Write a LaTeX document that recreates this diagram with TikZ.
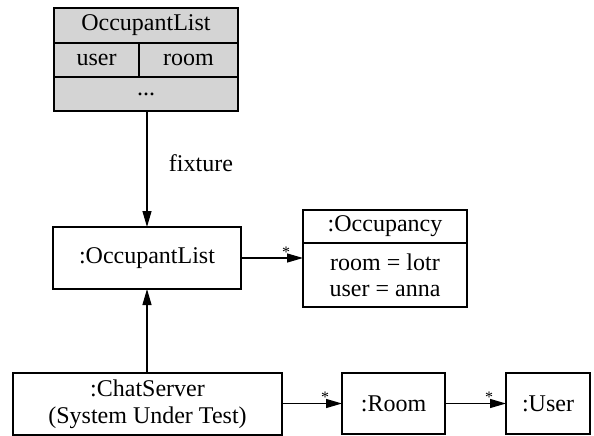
\documentclass[tikz,border=0pt]{standalone}
\usepackage{fontspec}
\setmainfont{Liberation Serif}
\usetikzlibrary{arrows.meta,calc}
\tikzset{
  cell/.style={draw, line width=1.2pt, inner sep=0pt, outer sep=0pt, align=center},
  graycell/.style={cell, fill=black!17},
  arr/.style={line width=1.2pt, -{Triangle[length=16pt,width=9pt]}},
  mult/.style={inner sep=0pt, font=\fontsize{16}{16}\selectfont}
}
\begin{document}
\begin{tikzpicture}[x=1pt, y=-1pt, font=\fontsize{24}{26}\selectfont]
\useasboundingbox (0,0) rectangle (594,436);
% template table
\node[graycell, minimum width=184, minimum height=35] (thead) at (146,25.5) {OccupantList};
\node[graycell, minimum width=85, minimum height=34] (tuser) at (96.5,60) {user};
\node[graycell, minimum width=99, minimum height=34] (troom) at (188.5,60) {room};
\node[graycell, minimum width=184, minimum height=34] (tdots) at (146,94) {...};
% objects
\node[cell, minimum width=188, minimum height=62] (ol) at (147,258) {:OccupantList};
\node[cell, minimum width=164, minimum height=33] (occhead) at (385,226.5) {:Occupancy};
\node[cell, minimum width=164, minimum height=64] (occbody) at (385,275) {room = lotr\\user = anna};
\node[cell, minimum width=269, minimum height=62, font=\fontsize{24}{27}\selectfont] (cs) at (147.5,404) {:ChatServer\\(System Under Test)};
\node[cell, minimum width=103, minimum height=61] (room) at (393.5,403.5) {:Room};
\node[cell, minimum width=84, minimum height=61] (user) at (548,403.5) {:User};
% fixture
\draw[arr] (tdots.south -| ol.north) -- node[right=18pt, pos=0.45] (fixlbl) {fixture} (ol.north);
\draw[arr] (cs.north -| ol.south) -- (ol.south);
% associations
\draw[arr] (ol.east) -- (occbody.west |- ol.east);
\node[mult] (m1) at ($(occbody.west |- ol.east)+(-17,-6)$) {*};
\draw[arr] (cs.east |- room.west) -- (room.west);
\node[mult] (m2) at ($(room.west)+(-17,-6)$) {*};
\draw[arr] (room.east) -- (user.west);
\node[mult] (m3) at ($(user.west)+(-17,-6)$) {*};
\end{tikzpicture}
\end{document}
